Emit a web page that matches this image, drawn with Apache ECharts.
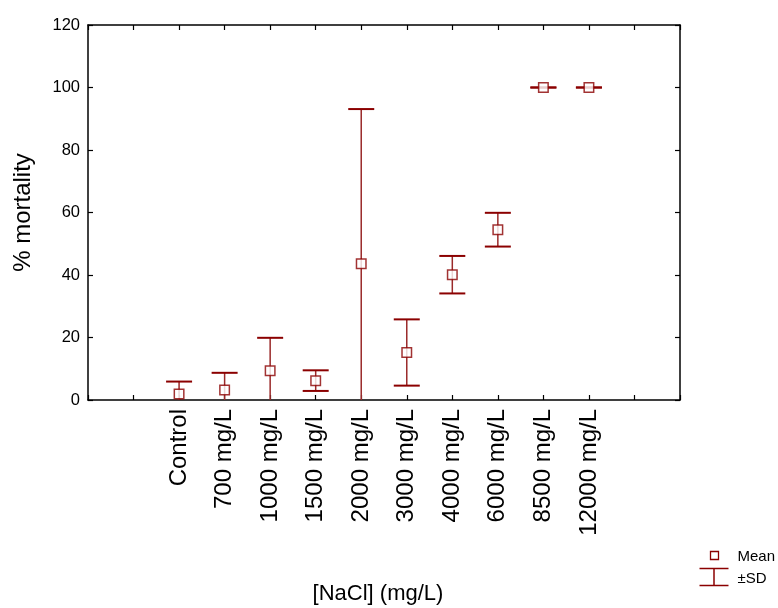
<!DOCTYPE html>
<html>
<head>
<meta charset="utf-8">
<style>
  html, body { margin: 0; padding: 0; background: #fff; }
  #chart { width: 778px; height: 608px; }
</style>
<script src="https://cdn.jsdelivr.net/npm/echarts@6/dist/echarts.min.js"></script>
</head>
<body>
<div id="chart"></div>
<script>
// NaCl treatment groups and their % mortality (mean ± SD)
const categories = ['Control', '700 mg/L', '1000 mg/L', '1500 mg/L', '2000 mg/L',
                    '3000 mg/L', '4000 mg/L', '6000 mg/L', '8500 mg/L', '12000 mg/L'];
const meanMortality = [1.9, 3.2, 9.4, 6.2, 43.6, 15.2, 40.1, 54.5, 100, 100];
const sdMortality   = [4.0, 5.5, 10.5, 3.3, 49.5, 10.6, 6.0, 5.4, 0, 0];
const yTicks = [0, 20, 40, 60, 80, 100, 120];

// groups sit at x = 2..11 on a 0..13 scale, leaving empty slots at each side
const OFFSET = 2;
const X_MAX = categories.length + 3;

const RED = '#8b0000';
const FONT = '"Liberation Sans", Arial, sans-serif';

const meanData = categories.map((c, i) => [i + OFFSET, meanMortality[i]]);
const errData = categories.map((c, i) => [i + OFFSET, meanMortality[i], sdMortality[i]]);

const chart = echarts.init(document.getElementById('chart'), null, { renderer: 'canvas' });

const axisLine = { show: true, onZero: false, lineStyle: { color: '#000', width: 1.5 } };
const tickIn = { show: true, inside: true, length: 5, lineStyle: { color: '#000', width: 1.2 } };

chart.setOption({
  backgroundColor: '#fff',
  animation: false,
  grid: { left: 88, right: 98, top: 25, bottom: 208, outerBoundsMode: 'none', containLabel: false },
  xAxis: [{
    type: 'value', min: 0, max: X_MAX, interval: 1,
    position: 'bottom',
    name: '[NaCl] (mg/L)', nameLocation: 'middle', nameGap: 183,
    nameTextStyle: { fontFamily: FONT, fontSize: 22, color: '#000', padding: [0, 12, 0, 0] },
    axisLine, axisTick: tickIn, splitLine: { show: false },
    axisLabel: {
      rotate: 90, margin: 9, fontFamily: FONT, fontSize: 24, color: '#000',
      formatter: v => {
        const k = Math.round(v) - OFFSET;
        return (k >= 0 && k < categories.length) ? categories[k] : '';
      }
    }
  }, {
    type: 'value', min: 0, max: X_MAX, interval: 1,
    position: 'top',
    axisLine, axisTick: tickIn, splitLine: { show: false },
    axisLabel: { show: false }
  }],
  yAxis: [{
    type: 'value', min: yTicks[0], max: yTicks[yTicks.length - 1], interval: 20,
    position: 'left',
    name: '% mortality', nameLocation: 'middle', nameGap: 53,
    nameTextStyle: { fontFamily: FONT, fontSize: 24, color: '#000' },
    axisLine, axisTick: tickIn, splitLine: { show: false },
    axisLabel: { margin: 8, fontFamily: FONT, fontSize: 16.5, color: '#000' }
  }, {
    type: 'value', min: yTicks[0], max: yTicks[yTicks.length - 1], interval: 20,
    position: 'right',
    axisLine, axisTick: tickIn, splitLine: { show: false },
    axisLabel: { show: false }
  }],
  series: [{
    // ±SD whiskers with end caps
    name: '±SD',
    type: 'custom',
    clip: true,
    z: 2,
    data: errData,
    encode: { x: 0, y: 1 },
    renderItem: (params, api) => {
      const x = api.value(0), m = api.value(1), sd = api.value(2);
      const top = api.coord([x, m + sd]);
      const bot = api.coord([x, m - sd]);
      const half = 13;
      const style = { stroke: '#9a2a2a', lineWidth: 1.5, fill: null };
      const cap = { stroke: RED, lineWidth: 2 };
      return {
        type: 'group',
        children: [
          { type: 'line', shape: { x1: top[0], y1: top[1], x2: bot[0], y2: bot[1] }, style },
          { type: 'line', shape: { x1: top[0] - half, y1: top[1], x2: top[0] + half, y2: top[1] }, style: cap },
          { type: 'line', shape: { x1: bot[0] - half, y1: bot[1], x2: bot[0] + half, y2: bot[1] }, style: cap }
        ]
      };
    }
  }, {
    // group means
    name: 'Mean',
    type: 'scatter',
    z: 3,
    data: meanData,
    symbol: 'rect',
    symbolSize: 9.5,
    itemStyle: { color: '#fff', borderColor: RED, borderWidth: 1.5 }
  }],
  graphic: [{
    type: 'group', left: 697, top: 549,
    children: [
      { type: 'rect', shape: { x: 11, y: 1, width: 8, height: 8 },
        style: { fill: '#fff', stroke: RED, lineWidth: 1.3 } },
      { type: 'text', x: 38, y: 6,
        style: { text: 'Mean', font: '15px ' + FONT, fill: '#000', textVerticalAlign: 'middle' } },
      { type: 'line', shape: { x1: 0, y1: 18, x2: 29, y2: 18 }, style: { stroke: RED, lineWidth: 1.5 } },
      { type: 'line', shape: { x1: 14.5, y1: 18, x2: 14.5, y2: 35 }, style: { stroke: RED, lineWidth: 1.5 } },
      { type: 'line', shape: { x1: 0, y1: 35, x2: 29, y2: 35 }, style: { stroke: RED, lineWidth: 1.5 } },
      { type: 'text', x: 38, y: 28,
        style: { text: '±SD', font: '15px ' + FONT, fill: '#000', textVerticalAlign: 'middle' } }
    ]
  }]
});
</script>
</body>
</html>
